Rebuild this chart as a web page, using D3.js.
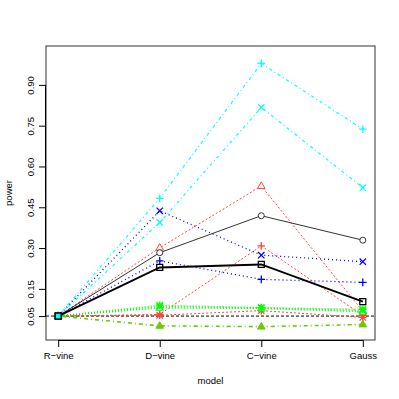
<!DOCTYPE html>
<html>
<head>
<meta charset="utf-8">
<script src="https://cdn.jsdelivr.net/npm/d3@7"></script>
<style>
  body { margin: 0; background: #fff; }
  text { font-family: "Liberation Sans", Arial, sans-serif; font-size: 9.5px; fill: #000; }
</style>
</head>
<body>
<div id="plot"></div>
<script>
// categories and ticks
var models = ["R\u2212vine", "D\u2212vine", "C\u2212vine", "Gauss"];
var yTicks = [0.05, 0.15, 0.30, 0.45, 0.60, 0.75, 0.90];
var level = 0.05;

// power values per model (R-vine, D-vine, C-vine, Gauss)
var cyanPlus   = [0.05, 0.483, 0.979, 0.737];
var cyanCross  = [0.05, 0.394, 0.817, 0.522];
var redTri     = [0.05, 0.301, 0.528, 0.068];
var redPlus    = [0.05, 0.056, 0.308, 0.052];
var redStar    = [0.05, 0.053, 0.070, 0.045];
var blackCirc  = [0.05, 0.283, 0.419, 0.329];
var blueCross  = [0.05, 0.437, 0.274, 0.250];
var bluePlus   = [0.05, 0.253, 0.185, 0.174];
var blackSq    = [0.05, 0.229, 0.240, 0.103];
var greenStar  = [0.05, 0.090, 0.081, 0.075];
var greenTri   = [0.05, 0.080, 0.078, 0.066];
var greenCross = [0.05, 0.085, 0.080, 0.070];
var olivTri    = [0.05, 0.014, 0.011, 0.019];

var series = [
  {vals: cyanPlus,   col: "#00ffff", dash: "1,3,3,3", lw: 1.2, pch: "plus"},
  {vals: cyanCross,  col: "#00ffff", dash: "1,3,3,3", lw: 1.2, pch: "cross"},
  {vals: redTri,     col: "#ff4545", dash: "2,2",     lw: 1,   pch: "tri"},
  {vals: redPlus,    col: "#ff4545", dash: "2,2",     lw: 1,   pch: "plus"},
  {vals: redStar,    col: "#ff4545", dash: "2,2",     lw: 1,   pch: "star"},
  {vals: blackCirc,  col: "#333333", dash: null,      lw: 1,   pch: "circle"},
  {vals: blueCross,  col: "#0000ff", dash: "1,3",     lw: 1.3, pch: "cross"},
  {vals: bluePlus,   col: "#0000ff", dash: "1,3",     lw: 1.3, pch: "plus"},
  {vals: greenTri,   col: "#00ff00", dash: "1,2",     lw: 1.3, pch: "tri"},
  {vals: greenCross, col: "#00ff00", dash: "1,2",     lw: 1.3, pch: "cross"},
  {vals: greenStar,  col: "#00ff00", dash: "1,2",     lw: 1.3, pch: "star"},
  {vals: olivTri,    col: "#66cd00", dash: "1,3,4,3", lw: 1.6, pch: "ftri"},
  {vals: blackSq,    col: "#000000", dash: null,      lw: 2,   pch: "square"}
];

var margin = {top: 46, right: 24, bottom: 59, left: 46},
  width = 399, height = 399;

var svg = d3.select("#plot").append("svg")
  .attr("width", width)
  .attr("height", height);

var x = d3.scalePoint()
  .domain(models)
  .range([margin.left, width - margin.right])
  .padding(0.12);

var y = d3.scaleLinear()
  .domain([-0.038, 1.043])
  .range([height - margin.bottom, margin.top]);

// baseline at the nominal level
svg.append("line")
  .attr("x1", margin.left).attr("x2", width - margin.right)
  .attr("y1", y(level)).attr("y2", y(level))
  .style("stroke", "#000").style("stroke-width", 1)
  .style("stroke-dasharray", "3,2");

var line = d3.line()
  .x(function(d, i) { return x(models[i]); })
  .y(function(d) { return y(d); });

function marker(g, pch, cx, cy, col) {
  var s = 3.2;
  if (pch == "plus" || pch == "star") {
    g.append("path").attr("d", "M" + (cx - s - 0.6) + "," + cy + "H" + (cx + s + 0.6) + "M" + cx + "," + (cy - s - 0.6) + "V" + (cy + s + 0.6))
      .style("stroke", col).style("stroke-width", 1.3).style("fill", "none");
  }
  if (pch == "cross" || pch == "star") {
    g.append("path").attr("d", "M" + (cx - s) + "," + (cy - s) + "L" + (cx + s) + "," + (cy + s) + "M" + (cx - s) + "," + (cy + s) + "L" + (cx + s) + "," + (cy - s))
      .style("stroke", col).style("stroke-width", 1.3).style("fill", "none");
  }
  if (pch == "circle") {
    g.append("circle").attr("cx", cx).attr("cy", cy).attr("r", 3)
      .style("stroke", col).style("fill", "#fff").style("stroke-width", 1);
  }
  if (pch == "square") {
    g.append("rect").attr("x", cx - 3).attr("y", cy - 3).attr("width", 6).attr("height", 6)
      .style("stroke", col).style("fill", "none").style("stroke-width", 1.3);
  }
  if (pch == "tri" || pch == "ftri") {
    g.append("path").attr("d", "M" + cx + "," + (cy - 4.2) + "L" + (cx + 3.8) + "," + (cy + 2.4) + "L" + (cx - 3.8) + "," + (cy + 2.4) + "Z")
      .style("stroke", col).style("stroke-width", 1)
      .style("fill", pch == "ftri" ? col : "#fff");
  }
}

series.forEach(function(s) {
  var g = svg.append("g");
  g.append("path")
    .datum(s.vals)
    .attr("d", line)
    .style("fill", "none")
    .style("stroke", s.col)
    .style("stroke-width", s.lw)
    .style("stroke-dasharray", s.dash ? s.dash : null);
  s.vals.forEach(function(v, i) {
    marker(g, s.pch, x(models[i]), y(v), s.col);
  });
});

// R-vine point where all series start
svg.append("rect")
  .attr("x", x(models[0]) - 3).attr("y", y(level) - 3)
  .attr("width", 6).attr("height", 6)
  .style("fill", "#00ffff").style("stroke", "#000").style("stroke-width", 1.3);

// box
svg.append("rect")
  .attr("x", margin.left).attr("y", margin.top)
  .attr("width", width - margin.left - margin.right)
  .attr("height", height - margin.top - margin.bottom)
  .style("fill", "none").style("stroke", "#333").style("stroke-width", 1);

// axes
var xAxis = svg.append("g")
  .attr("transform", "translate(0," + (height - margin.bottom) + ")")
  .call(d3.axisBottom(x).tickSize(7).tickPadding(5).tickSizeOuter(0));
xAxis.select(".domain").attr("d", "M" + x(models[0]) + ",0.5H" + x(models[3]));
xAxis.selectAll("text").style("font-size", "9.5px").attr("fill", "#000");

var yAxis = svg.append("g")
  .attr("transform", "translate(" + margin.left + ",0)")
  .call(d3.axisLeft(y).tickValues(yTicks).tickFormat(d3.format(".2f")).tickSize(7).tickSizeOuter(0));
yAxis.select(".domain").attr("d", "M-0.5," + y(yTicks[0]) + "V" + y(yTicks[yTicks.length - 1]));
yAxis.selectAll(".tick text")
  .attr("x", 0).attr("y", 0).attr("dy", null)
  .attr("text-anchor", "middle")
  .attr("transform", "translate(-12,0) rotate(-90)")
  .style("font-size", "9.5px").attr("fill", "#000");

// axis titles
svg.append("text")
  .attr("x", (margin.left + width - margin.right) / 2)
  .attr("y", 384)
  .attr("text-anchor", "middle")
  .text("model");

svg.append("text")
  .attr("transform", "translate(12," + ((margin.top + height - margin.bottom) / 2) + ") rotate(-90)")
  .attr("text-anchor", "middle")
  .text("power");
</script>
</body>
</html>
